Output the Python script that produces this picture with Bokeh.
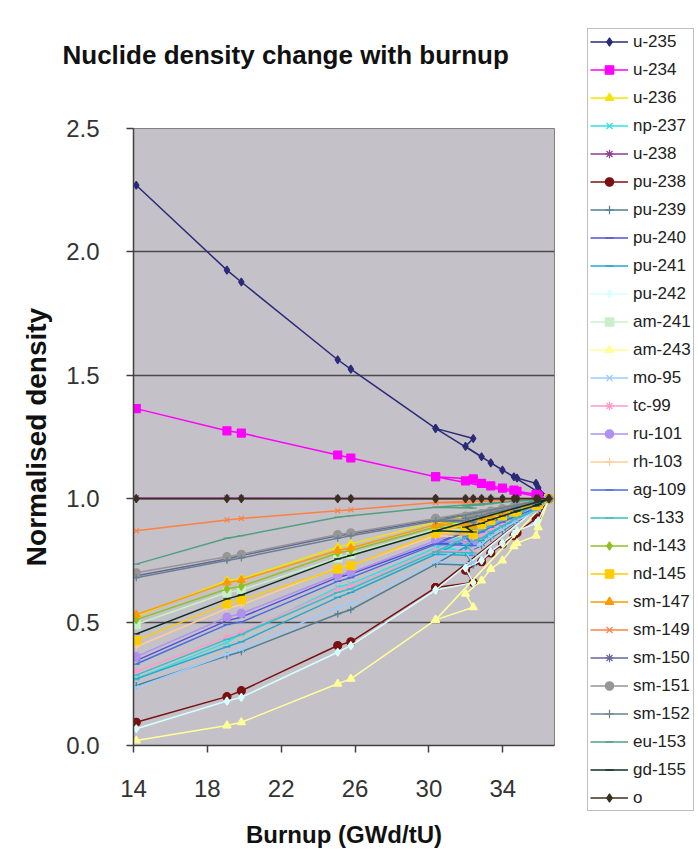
from bokeh.plotting import figure
from bokeh.models import Legend, LegendItem, FixedTicker, PrintfTickFormatter, Range1d, LinearAxis
from bokeh.embed import file_html
from bokeh.resources import INLINE

# Burnup (GWd/tU): coarse run (to end), then fine run from 30.36 onwards
burnup = [14.15, 19.06, 19.84, 25.06, 25.77, 30.36, 36.50,
          30.36, 32.40, 31.98, 32.85, 33.35, 33.98, 34.60, 34.77, 35.80, 35.92, 36.50]

u235 = [2.270, 1.926, 1.878, 1.563, 1.525, 1.285, 1.0, 1.285, 1.244, 1.212, 1.170, 1.145, 1.116, 1.089, 1.084, 1.062, 1.044, 1.0]
u234 = [1.365, 1.275, 1.266, 1.177, 1.165, 1.089, 1.0, 1.089, 1.080, 1.072, 1.062, 1.052, 1.043, 1.035, 1.030, 1.018, 1.012, 1.0]
u236 = [0.525, 0.668, 0.675, 0.803, 0.817, 0.905, 1.0, 0.905, 0.898, 0.915, 0.928, 0.940, 0.951, 0.962, 0.966, 0.981, 0.985, 1.0]
np237 = [0.270, 0.418, 0.452, 0.641, 0.655, 0.800, 1.0, 0.800, 0.790, 0.835, 0.858, 0.878, 0.900, 0.920, 0.927, 0.958, 0.965, 1.0]
u238 = [1.003, 1.003, 1.003, 1.002, 1.002, 1.001, 1.0, 1.001, 1.001, 1.001, 1.001, 1.000, 1.000, 1.000, 1.000, 1.000, 1.000, 1.0]
pu238 = [0.094, 0.198, 0.222, 0.405, 0.420, 0.640, 1.0, 0.640, 0.660, 0.710, 0.745, 0.780, 0.815, 0.850, 0.862, 0.920, 0.930, 1.0]
pu239 = [0.243, 0.364, 0.380, 0.533, 0.550, 0.735, 1.0, 0.735, 0.730, 0.780, 0.810, 0.840, 0.870, 0.900, 0.910, 0.950, 0.955, 1.0]
pu240 = [0.344, 0.506, 0.520, 0.681, 0.695, 0.820, 1.0, 0.820, 0.815, 0.850, 0.870, 0.890, 0.910, 0.930, 0.935, 0.965, 0.970, 1.0]
pu241 = [0.270, 0.400, 0.420, 0.600, 0.620, 0.775, 1.0, 0.775, 0.770, 0.800, 0.830, 0.860, 0.890, 0.910, 0.920, 0.952, 0.960, 1.0]
pu242 = [0.068, 0.180, 0.195, 0.378, 0.405, 0.630, 1.0, 0.630, 0.660, 0.720, 0.750, 0.785, 0.820, 0.857, 0.870, 0.900, 0.910, 1.0]
am241 = [0.490, 0.620, 0.630, 0.760, 0.775, 0.875, 1.0, 0.875, 0.870, 0.890, 0.905, 0.920, 0.935, 0.950, 0.955, 0.975, 0.980, 1.0]
am243 = [0.020, 0.081, 0.094, 0.250, 0.270, 0.509, 1.0, 0.509, 0.560, 0.615, 0.668, 0.715, 0.749, 0.807, 0.820, 0.850, 0.884, 1.0]
mo95 = [0.235, 0.370, 0.390, 0.560, 0.575, 0.745, 1.0, 0.745, 0.740, 0.785, 0.815, 0.845, 0.875, 0.905, 0.912, 0.950, 0.957, 1.0]
tc99 = [0.300, 0.440, 0.460, 0.630, 0.645, 0.790, 1.0, 0.790, 0.785, 0.825, 0.850, 0.875, 0.900, 0.920, 0.928, 0.960, 0.965, 1.0]
ru101 = [0.360, 0.520, 0.535, 0.690, 0.700, 0.830, 1.0, 0.830, 0.825, 0.860, 0.880, 0.900, 0.920, 0.940, 0.945, 0.968, 0.972, 1.0]
rh103 = [0.400, 0.555, 0.570, 0.720, 0.730, 0.850, 1.0, 0.850, 0.845, 0.875, 0.892, 0.910, 0.928, 0.945, 0.950, 0.970, 0.975, 1.0]
ag109 = [0.330, 0.490, 0.500, 0.665, 0.680, 0.815, 1.0, 0.815, 0.810, 0.845, 0.865, 0.885, 0.905, 0.925, 0.930, 0.962, 0.968, 1.0]
cs133 = [0.285, 0.430, 0.450, 0.620, 0.635, 0.785, 1.0, 0.785, 0.780, 0.815, 0.840, 0.865, 0.890, 0.915, 0.922, 0.955, 0.962, 1.0]
nd143 = [0.510, 0.634, 0.645, 0.780, 0.790, 0.885, 1.0, 0.885, 0.880, 0.898, 0.912, 0.926, 0.940, 0.952, 0.957, 0.976, 0.980, 1.0]
nd145 = [0.425, 0.575, 0.590, 0.715, 0.729, 0.860, 1.0, 0.860, 0.855, 0.878, 0.895, 0.912, 0.930, 0.945, 0.950, 0.972, 0.977, 1.0]
sm147 = [0.530, 0.660, 0.670, 0.790, 0.800, 0.895, 1.0, 0.895, 0.890, 0.905, 0.920, 0.932, 0.945, 0.956, 0.960, 0.978, 0.982, 1.0]
sm149 = [0.870, 0.914, 0.920, 0.951, 0.955, 0.985, 1.0, 0.985, 0.984, 0.987, 0.989, 0.991, 0.993, 0.995, 0.995, 0.998, 0.998, 1.0]
sm150 = [0.688, 0.756, 0.770, 0.850, 0.857, 0.915, 1.0, 0.915, 0.910, 0.925, 0.935, 0.945, 0.955, 0.965, 0.968, 0.982, 0.985, 1.0]
sm151 = [0.700, 0.765, 0.775, 0.855, 0.862, 0.920, 1.0, 0.920, 0.915, 0.930, 0.940, 0.950, 0.960, 0.968, 0.970, 0.985, 0.987, 1.0]
sm152 = [0.680, 0.750, 0.760, 0.840, 0.850, 0.910, 1.0, 0.910, 0.905, 0.920, 0.930, 0.942, 0.952, 0.962, 0.966, 0.980, 0.983, 1.0]
eu153 = [0.735, 0.840, 0.850, 0.925, 0.931, 0.965, 1.0, 0.965, 0.962, 0.970, 0.975, 0.980, 0.985, 0.990, 0.990, 0.995, 0.996, 1.0]
gd155 = [0.452, 0.594, 0.610, 0.756, 0.770, 0.870, 1.0, 0.870, 0.865, 0.885, 0.900, 0.915, 0.930, 0.945, 0.950, 0.972, 0.977, 1.0]
o_ser = [1.000, 1.000, 1.000, 1.000, 1.000, 1.000, 1.0, 1.000, 1.000, 1.000, 1.000, 1.000, 1.000, 1.000, 1.000, 1.000, 1.000, 1.0]

names = ["u-235", "u-234", "u-236", "np-237", "u-238", "pu-238", "pu-239", "pu-240",
         "pu-241", "pu-242", "am-241", "am-243", "mo-95", "tc-99", "ru-101", "rh-103",
         "ag-109", "cs-133", "nd-143", "nd-145", "sm-147", "sm-149", "sm-150", "sm-151",
         "sm-152", "eu-153", "gd-155", "o"]
values = [u235, u234, u236, np237, u238, pu238, pu239, pu240, pu241, pu242, am241, am243,
          mo95, tc99, ru101, rh103, ag109, cs133, nd143, nd145, sm147, sm149, sm150, sm151,
          sm152, eu153, gd155, o_ser]
colors = ["#2a2a78", "#ff00ff", "#f2e600", "#30e0e0", "#903c90", "#7a1010", "#4f7f90", "#5050d8",
          "#20a8d0", "#d8ffff", "#c8f0c8", "#ffff99", "#99ccff", "#ff99cc", "#b090f0", "#ffcc99",
          "#4a6ae0", "#33c0c0", "#90c020", "#ffcc00", "#ff9900", "#ff8040", "#666699", "#969696",
          "#6a8090", "#50a080", "#103020", "#3a3020"]
markers = ["diamond", "square", "triangle", "x", "asterisk", "circle", "cross", "dash", "dash"]

x_ticks = [14, 18, 22, 26, 30, 34]
y_ticks = [0.0, 0.5, 1.0, 1.5, 2.0, 2.5]

FONT = "Liberation Sans"

p = figure(frame_width=421, frame_height=617, output_backend="svg", toolbar_location=None,
           x_range=Range1d(14, 36.8), y_range=Range1d(0, 2.5),
           min_border_left=133, min_border_right=144, min_border_top=128, min_border_bottom=108,
           title="Nuclide density change with burnup")
p.background_fill_color = "#c4c2c8"
p.border_fill_color = "white"
p.outline_line_color = "#808080"
p.outline_line_width = 1

p.title.text_font = FONT
p.title.text_font_size = "26px"
p.title.text_font_style = "bold"
p.title.text_color = "#111111"
p.title.align = "left"
p.title.vertical_align = "bottom"
p.title.offset = -71
p.title.standoff = 10

p.xgrid.grid_line_color = None
p.ygrid.grid_line_color = "#4a4a4a"
p.ygrid.grid_line_width = 1.5
p.ygrid.ticker = FixedTicker(ticks=y_ticks)

xax = p.below[0]
yax = p.left[0]
xax.ticker = FixedTicker(ticks=x_ticks)
yax.ticker = FixedTicker(ticks=y_ticks)
yax.formatter = PrintfTickFormatter(format="%.1f")
for ax in (xax, yax):
    ax.axis_line_color = "#404040"
    ax.axis_line_width = 1.5
    ax.major_tick_line_color = "#404040"
    ax.major_tick_line_width = 1.5
    ax.major_tick_out = 7
    ax.major_tick_in = 0
    ax.minor_tick_line_color = None
    ax.major_label_text_font = FONT
    ax.major_label_text_font_size = "24px"
    ax.major_label_text_color = "#333333"
    ax.axis_label_text_font = FONT
    ax.axis_label_text_font_style = "bold"
    ax.axis_label_text_color = "#111111"
yax.major_label_standoff = 27
xax.major_label_standoff = 27
xax.axis_label = "Burnup (GWd/tU)"
yax.axis_label = "Normalised density"
xax.axis_label_text_font_size = "24px"
yax.axis_label_text_font_size = "28px"
xax.axis_label_standoff = 21
yax.axis_label_standoff = 11

items = []
for i, (nm, vals, col) in enumerate(zip(names, values, colors)):
    ln = p.line(burnup, vals, line_color=col, line_width=1.5)
    mk = markers[i % len(markers)]
    size = 8 if mk in ("diamond", "square", "triangle", "circle") else 7
    sc = p.scatter(burnup, vals, marker=mk, size=size, fill_color=col, line_color=col, line_width=1.2)
    items.append(LegendItem(label=nm, renderers=[ln, sc]))

legend = Legend(items=items, location=(33, -66))
legend.label_text_font = FONT
legend.label_text_font_size = "17px"
legend.label_text_color = "#222222"
legend.glyph_width = 38
legend.glyph_height = 21
legend.label_height = 21
legend.spacing = 7
legend.padding = 2
legend.label_standoff = 5
legend.margin = 0
legend.border_line_color = "#808080"
legend.border_line_width = 1
legend.background_fill_color = "white"
legend.background_fill_alpha = 1.0
p.add_layout(legend, "right")

# invisible spacer between plot area and title: blank axis label with a standoff
spacer = LinearAxis(ticker=FixedTicker(ticks=[]), axis_line_color=None,
                    major_tick_line_color=None, minor_tick_line_color=None,
                    major_tick_out=0, major_tick_in=0, minor_tick_out=0, minor_tick_in=0,
                    major_label_standoff=0, axis_label=" ",
                    axis_label_text_font_size="10px", axis_label_text_color=None,
                    axis_label_standoff=40)
p.add_layout(spacer, "above")

open("out.html", "w").write(file_html(p, INLINE))
